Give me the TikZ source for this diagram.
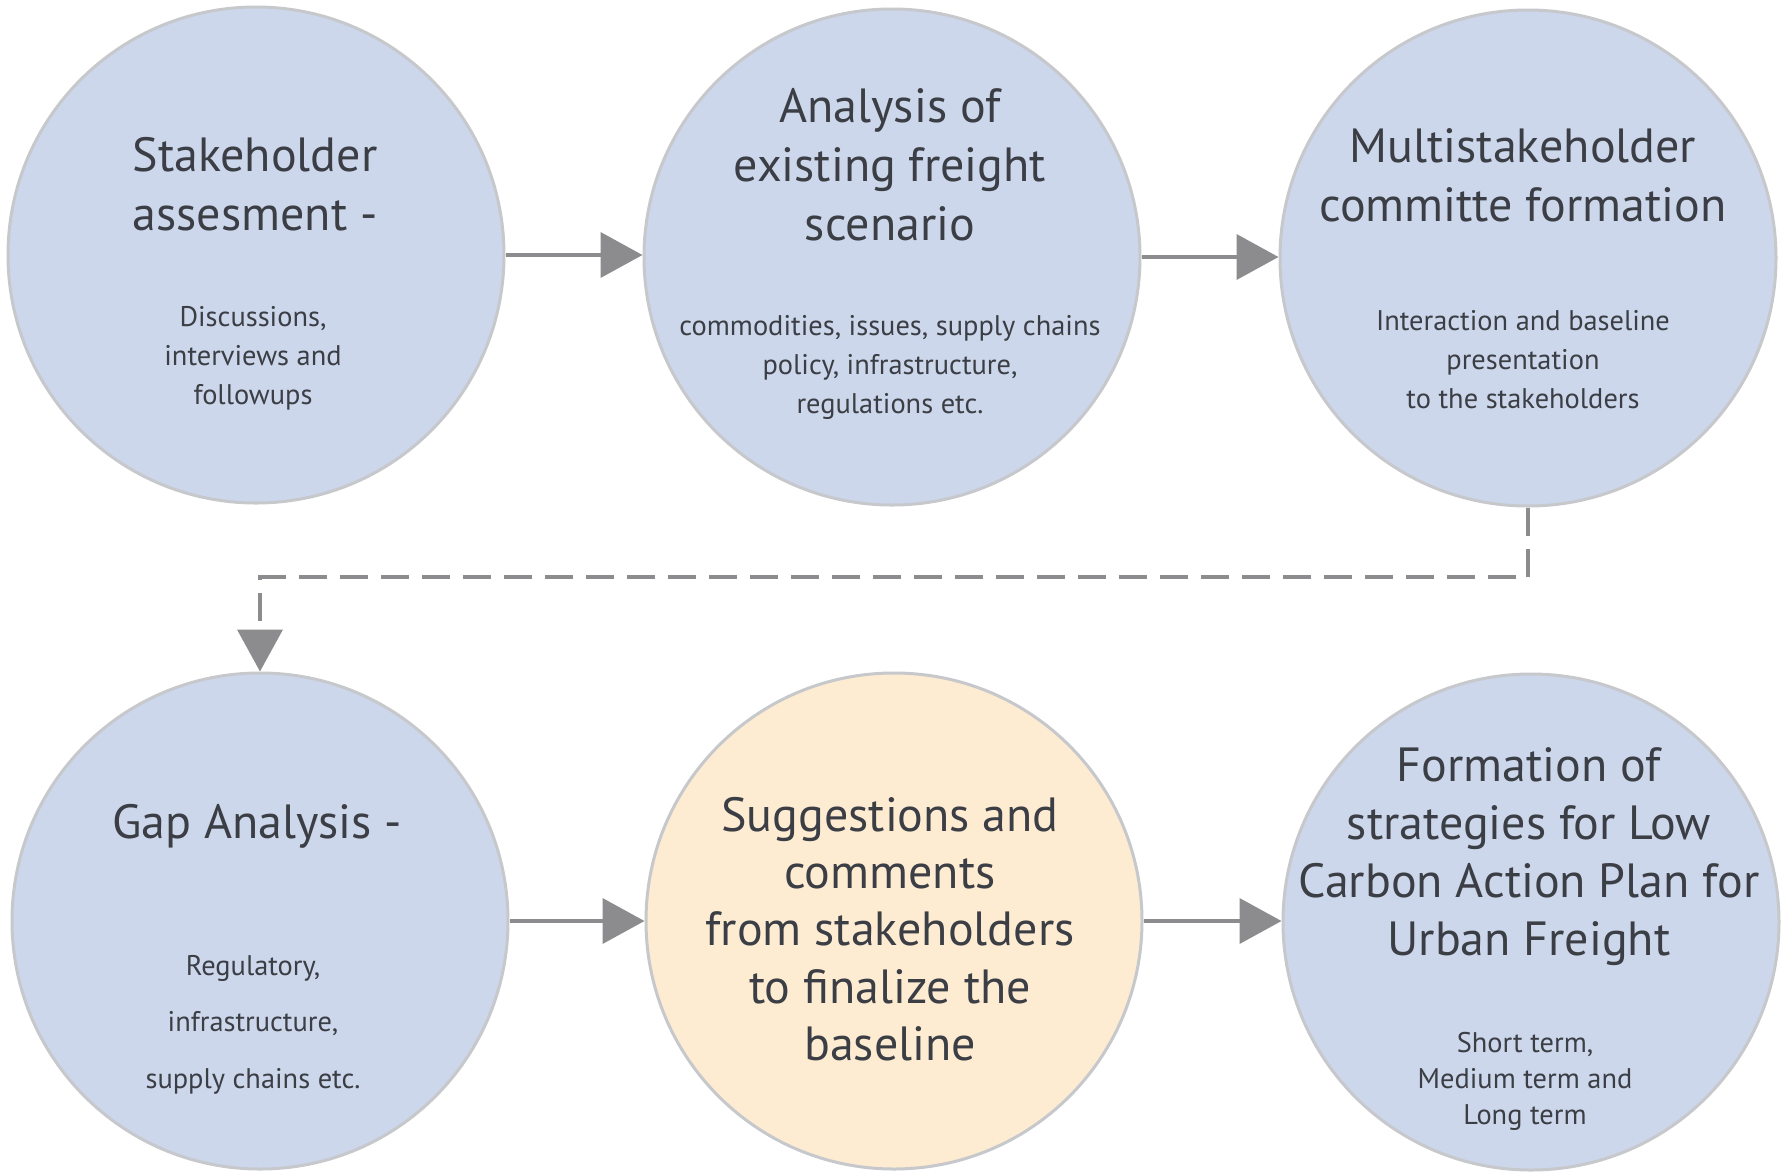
\documentclass[tikz,border=0pt]{standalone}
\usepackage{fontspec}
\setmainfont{PT Sans}
\usetikzlibrary{arrows.meta}
\definecolor{cblue}{HTML}{CDD7EB}
\definecolor{corange}{HTML}{FDEBD2}
\definecolor{cborder}{HTML}{C6C8CC}
\definecolor{carrow}{HTML}{8C8C8E}
\definecolor{ctext}{HTML}{3B3E44}
\tikzset{
  stage/.style={circle, draw=cborder, line width=1.5pt, fill=cblue, minimum size=248pt, inner sep=0pt},
  hilite/.style={stage, fill=corange},
  title/.style={align=center, text=ctext, font=\fontsize{24}{29.5}\selectfont, inner sep=0pt},
  sub/.style={align=center, text=ctext, font=\fontsize{14.2}{19.4}\selectfont, inner sep=0pt},
  flow/.style={draw=carrow, line width=2pt, -{Triangle[length=21pt, width=22.5pt]}},
  dflow/.style={flow, dash pattern=on 14pt off 6.5pt},
}
\begin{document}
\begin{tikzpicture}[x=0.5pt, y=-0.5pt]
\useasboundingbox (0,0) rectangle (1785,1174);
\fill[white] (0,0) rectangle (1785,1174);
% circles
\node[stage]  (c1) at (256,255) {};
\node[stage]  (c2) at (892,257) {};
\node[stage]  (c3) at (1528,258) {};
\node[stage]  (c4) at (260,921) {};
\node[hilite] (c5) at (894,921) {};
\node[stage]  (c6) at (1531,922) {};
% texts
\node[title] (t1) at (255,184) {Stakeholder\\assesment -};
\node[sub]   (s1) at (253,358.5) {Discussions,\\interviews and\\followups};
\node[title] (t2) at (890,165) {Analysis of\\existing freight\\scenario};
\node[sub]   (s2) at (890,367.5) {commodities, issues, supply chains\\policy, infrastructure,\\regulations etc.};
\node[title] (t3) at (1523,175) {Multistakeholder\\committe formation};
\node[sub]   (s3) at (1523,359.5) {Interaction and baseline\\presentation\\to the stakeholders};
\node[title] (t4) at (257,826.5) {Gap Analysis -};
\node[sub, font=\fontsize{14.2}{28.2}\selectfont] (s4) at (253,1024.5) {Regulatory,\\infrastructure,\\supply chains etc.};
\node[title, font=\fontsize{24}{28.7}\selectfont] (t5) at (890,929) {Suggestions and\\comments\\from stakeholders\\to finalize the\\baseline};
\node[title, font=\fontsize{24}{29}\selectfont] (t6) at (1529,857) {Formation of\\strategies for Low\\Carbon Action Plan for\\Urban Freight};
\node[sub, font=\fontsize{14.2}{18}\selectfont] (s6) at (1525,1081.5) {Short term,\\Medium term and\\Long term};
% connectors
\draw[flow] (c1.east) -- (c1.east -| c2.west);
\draw[flow] (c2.east) -- (c2.east -| c3.west);
\draw[flow] (c4.east) -- (c4.east -| c5.west);
\draw[flow] (c5.east) -- (c5.east -| c6.west);
\coordinate (bend) at (1528,577);
\draw[dflow] (c3.south) -- (bend) -| (c4.north);
\end{tikzpicture}
\end{document}
